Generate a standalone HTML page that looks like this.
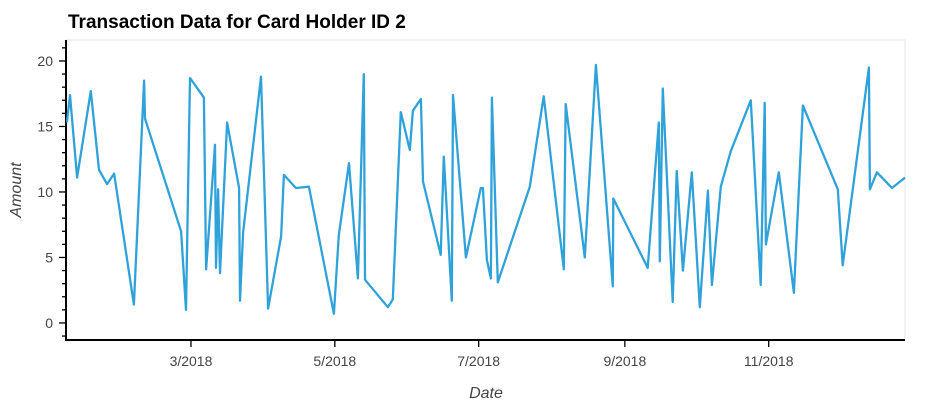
<!DOCTYPE html>
<html><head><meta charset="utf-8"><style>
body{margin:0;background:#fff;width:944px;height:404px;overflow:hidden;font-family:"Liberation Sans",sans-serif}
</style></head><body>
<svg id="chart" width="944" height="404" xmlns="http://www.w3.org/2000/svg">
<text x="68" y="28" font-size="19" font-weight="bold" fill="#000" font-family="Liberation Sans, sans-serif">Transaction Data for Card Holder ID 2</text>
<rect x="66" y="40" width="839" height="300" fill="none" stroke="#e5e5e5" stroke-width="1"/>
<g id="axes"></g>
<path id="series" fill="none" stroke="#30a2da" stroke-width="2.3" stroke-linejoin="round"/>
<text transform="translate(21,190) rotate(-90)" text-anchor="middle" font-size="16" font-style="italic" fill="#444">Amount</text>
<text x="486" y="398" text-anchor="middle" font-size="16" font-style="italic" fill="#444">Date</text>
</svg>
<script>
const dayOfYear=[6.4,7.7,10.7,16.5,20.0,23.4,26.4,34.8,39.1,39.5,54.8,56.9,58.6,64.5,65.4,69.2,69.6,70.5,71.3,74.3,79.4,79.8,81.1,88.7,91.7,97.2,98.4,103.5,109.0,119.6,121.7,126.0,129.8,132.3,132.8,142.5,144.6,148.0,151.8,153.1,156.5,157.4,164.9,166.2,169.6,170.1,175.6,181.9,182.8,184.5,186.2,186.6,189.1,202.7,208.6,217.1,217.9,226.0,230.7,237.9,238.1,252.7,257.4,257.8,259.1,263.3,265.0,267.6,271.4,274.8,278.2,279.9,283.7,287.9,296.4,300.6,302.3,302.8,308.3,314.7,318.5,333.3,335.4,346.5,346.9,349.9,356.3,361.8];
const amounts=[15.3,17.4,11.1,17.7,11.7,10.6,11.4,1.4,18.5,15.6,7.0,1.0,18.7,17.2,4.1,13.6,4.2,10.2,3.8,15.3,10.3,1.7,6.9,18.8,1.1,6.6,11.3,10.3,10.4,0.7,6.7,12.2,3.4,19.0,3.3,1.2,1.8,16.1,13.2,16.2,17.1,10.8,5.2,12.7,1.7,17.4,5.0,10.3,10.3,4.8,3.4,17.2,3.1,10.4,17.3,4.1,16.7,5.0,19.7,2.8,9.5,4.2,15.3,4.7,17.9,1.6,11.6,4.0,11.5,1.2,10.1,2.9,10.4,13.1,17.0,2.9,16.8,6.0,11.5,2.3,16.6,10.2,4.4,19.5,10.2,11.5,10.3,11.1];
const yTicks=[0,5,10,15,20];
const xTickDays=[59,120,181,243,304];
const xTickLabels=["3/2018","5/2018","7/2018","9/2018","11/2018"];
const NS="http://www.w3.org/2000/svg";
const L=66,R=905,T=40,B=340;
const dMin=6.0,dMax=361.8,vMin=-1.30,vMax=21.6;
function xs(d){return L+(d-dMin)/(dMax-dMin)*(R-L);}
function ys(v){return B-(v-vMin)/(vMax-vMin)*(B-T);}
const ax=document.getElementById('axes');
function mk(tag,attrs){const e=document.createElementNS(NS,tag);for(const k in attrs)e.setAttribute(k,attrs[k]);ax.appendChild(e);return e;}
let e=mk('line',{x1:L,y1:T,x2:L,y2:B+1,stroke:'#000','stroke-width':2});


e=mk('line',{x1:L-1,y1:B,x2:R,y2:B,stroke:'#000','stroke-width':2});


for(let v=-1;v<=21;v++){
  const y=ys(v);
  const major=yTicks.indexOf(v)>=0;
  e=mk('line',{x1:L-(major?7:4),y1:y,x2:L,y2:y,stroke:'#000','stroke-width':1.3});
  
  
}
yTicks.forEach(v=>{
  const t=mk('text',{x:L-13,y:ys(v)+5,'text-anchor':'end','font-size':14,fill:'#444'});
  t.textContent=v;
  
  
});
xTickDays.forEach((d,i)=>{
  const x=xs(d);
  e=mk('line',{x1:x,y1:B,x2:x,y2:B+7,stroke:'#000','stroke-width':1.3});
  
  
  const t=mk('text',{x:x,y:B+26,'text-anchor':'middle','font-size':14,fill:'#444'});
  t.textContent=xTickLabels[i];
  
  
});
let dstr='';
dayOfYear.forEach((d,i)=>{dstr+=(i?'L':'M')+xs(d).toFixed(1)+','+ys(amounts[i]).toFixed(1);});
document.getElementById('series').setAttribute('d',dstr);
</script>
</body></html>
